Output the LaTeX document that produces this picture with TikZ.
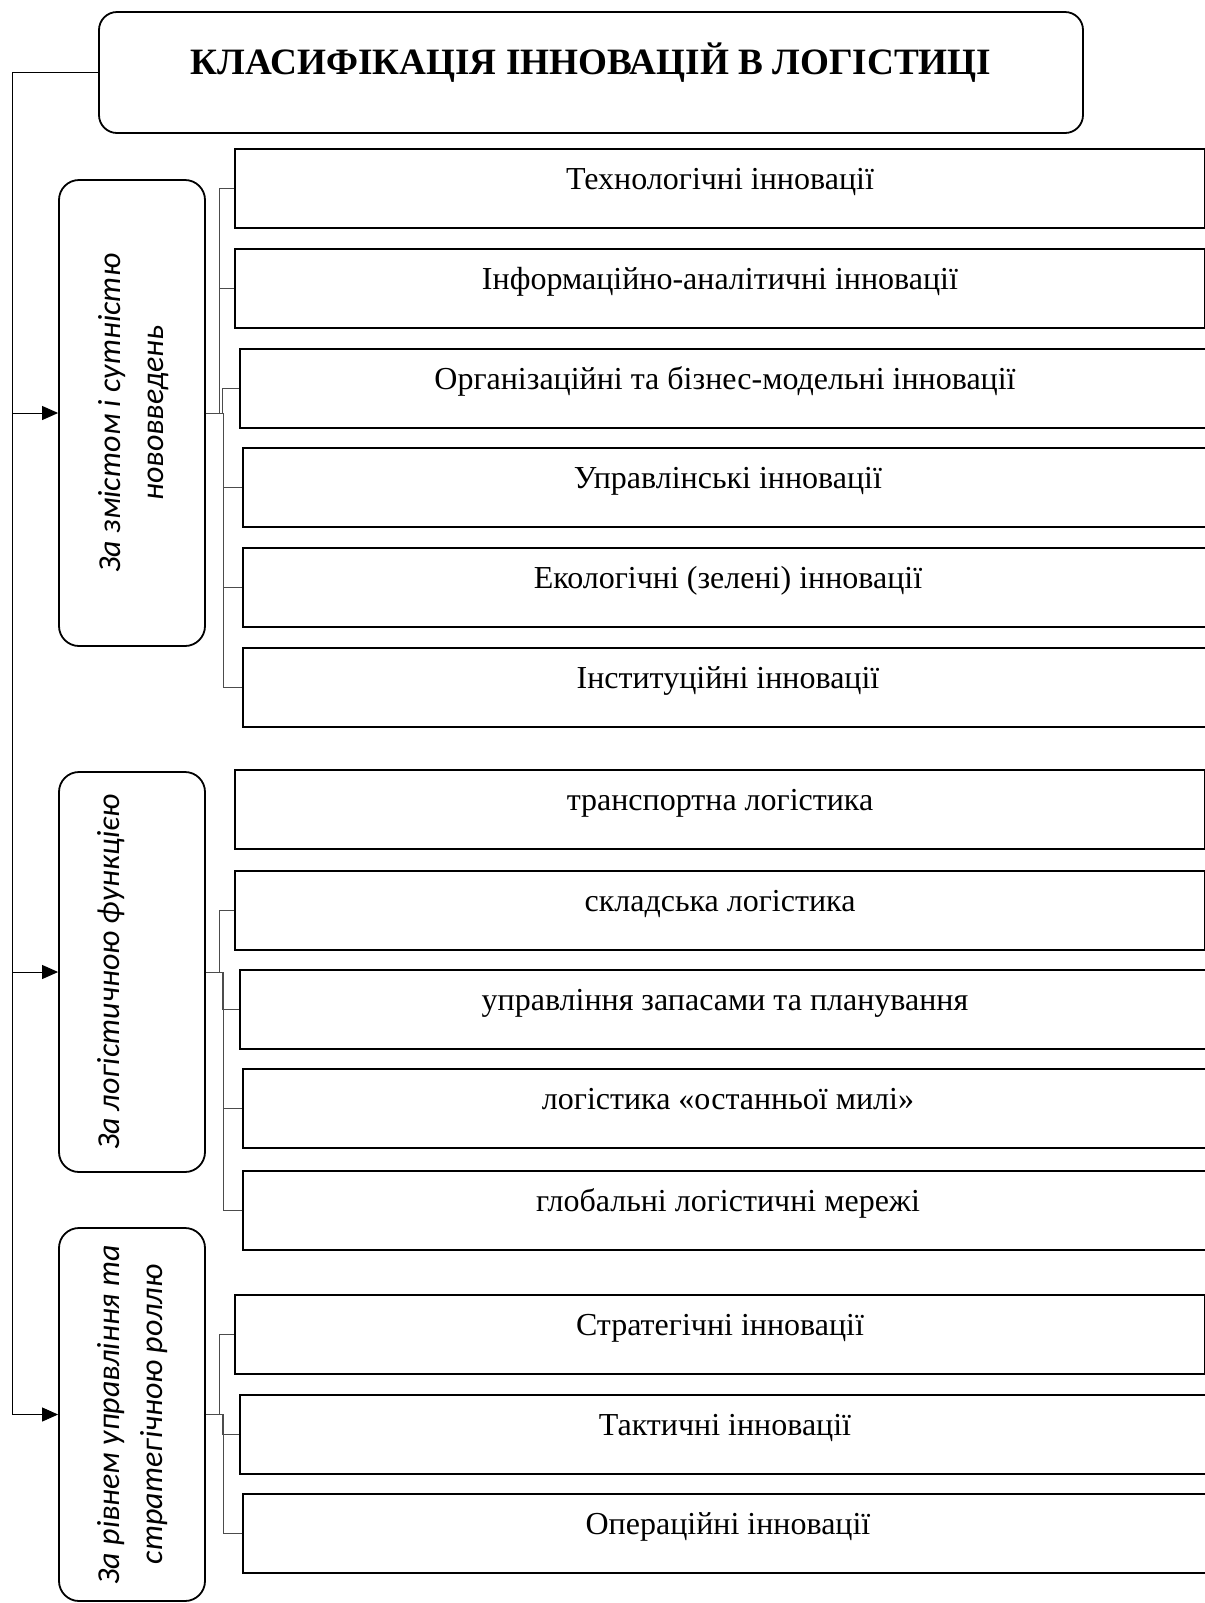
\documentclass[tikz,border=0pt]{standalone}
\usepackage{fontspec}
\setmainfont{Liberation Serif}
\newfontfamily\catfont{Carlito}
\usetikzlibrary{arrows.meta, calc, positioning}

\tikzset{
  head/.style={draw, rounded corners=9pt, line width=0.9pt, minimum width=492pt, inner sep=0pt,
    text height=31pt, text depth=29.5pt, font=\bfseries\fontsize{18.6}{21}\selectfont},
  cat/.style={draw, rounded corners=10pt, line width=0.9pt, minimum width=73pt, inner sep=0pt},
  cattext/.style={rotate=90, anchor=north, align=center, inner sep=0pt,
    font=\catfont\itshape\fontsize{16}{21.5}\selectfont},
  item/.style={draw, line width=1pt, minimum width=485pt, inner sep=0pt, anchor=north west,
    text height=20pt, text depth=19.5pt, font=\fontsize{16}{19}\selectfont},
  link/.style={draw=black!70, line width=0.5pt,
    to path={-- ($(\tikztostart)!0.5!(\tikztostart -| \tikztotarget)$) |- (\tikztotarget)}},
  feed/.style={line width=0.5pt, -{Triangle[length=8pt, width=7pt]}}
}

\begin{document}
\begin{tikzpicture}[x=0.5pt, y=-0.5pt]
\useasboundingbox (0,0) rectangle (1205,1603);
\clip (0,0) rectangle (1205,1603);

\node[head] (title) at (591,72.5) {КЛАСИФІКАЦІЯ ІННОВАЦІЙ В ЛОГІСТИЦІ};

\node[cat, minimum height=233pt] (zmist) at (132,413) {};
\node[cattext] (zmist-text) at (98,413) {За змістом і сутністю\\нововведень};
\node[cat, minimum height=200pt] (funk) at (132,972) {};
\node[cattext] (funk-text) at (97,972) {За логістичною функцією};
\node[cat, minimum height=186.5pt] (rol) at (132,1414.5) {};
\node[cattext] (rol-text) at (97,1414.5) {За рівнем управління та\\стратегічною роллю};

\node[item] (tech) at (234,148) {Технологічні інновації};
\node[item] (info) at (234,248) {Інформаційно-аналітичні інновації};
\node[item] (org) at (239,348) {Організаційні та бізнес-модельні інновації};
\node[item] (upr) at (242,447) {Управлінські інновації};
\node[item] (eko) at (242,547) {Екологічні (зелені) інновації};
\node[item] (inst) at (242,647) {Інституційні інновації};

\node[item] (trans) at (234,769) {транспортна логістика};
\node[item] (sklad) at (234,870) {складська логістика};
\node[item] (zapas) at (239,969) {управління запасами та планування};
\node[item] (mile) at (242,1068) {логістика «останньої милі»};
\node[item] (glob) at (242,1170) {глобальні логістичні мережі};

\node[item] (strat) at (234,1294) {Стратегічні інновації};
\node[item] (takt) at (239,1394) {Тактичні інновації};
\node[item] (oper) at (242,1493) {Операційні інновації};

\coordinate (trunk) at (12,72.5);
\draw[feed] (title.west) -- (trunk) |- (rol.west);
\draw[feed] (trunk |- zmist.west) -- (zmist.west);
\draw[feed] (trunk |- funk.west) -- (funk.west);

\draw[link] (zmist.east) to (tech.west);
\draw[link] (zmist.east) to (info.west);
\draw[link] (zmist.east) to (org.west);
\draw[link] (zmist.east) to (upr.west);
\draw[link] (zmist.east) to (eko.west);
\draw[link] (zmist.east) to (inst.west);

\draw[link] (funk.east) to (sklad.west);
\draw[link] (funk.east) to (zapas.west);
\draw[link] (funk.east) to (mile.west);
\draw[link] (funk.east) to (glob.west);

\draw[link] (rol.east) to (strat.west);
\draw[link] (rol.east) to (takt.west);
\draw[link] (rol.east) to (oper.west);
\end{tikzpicture}
\end{document}
